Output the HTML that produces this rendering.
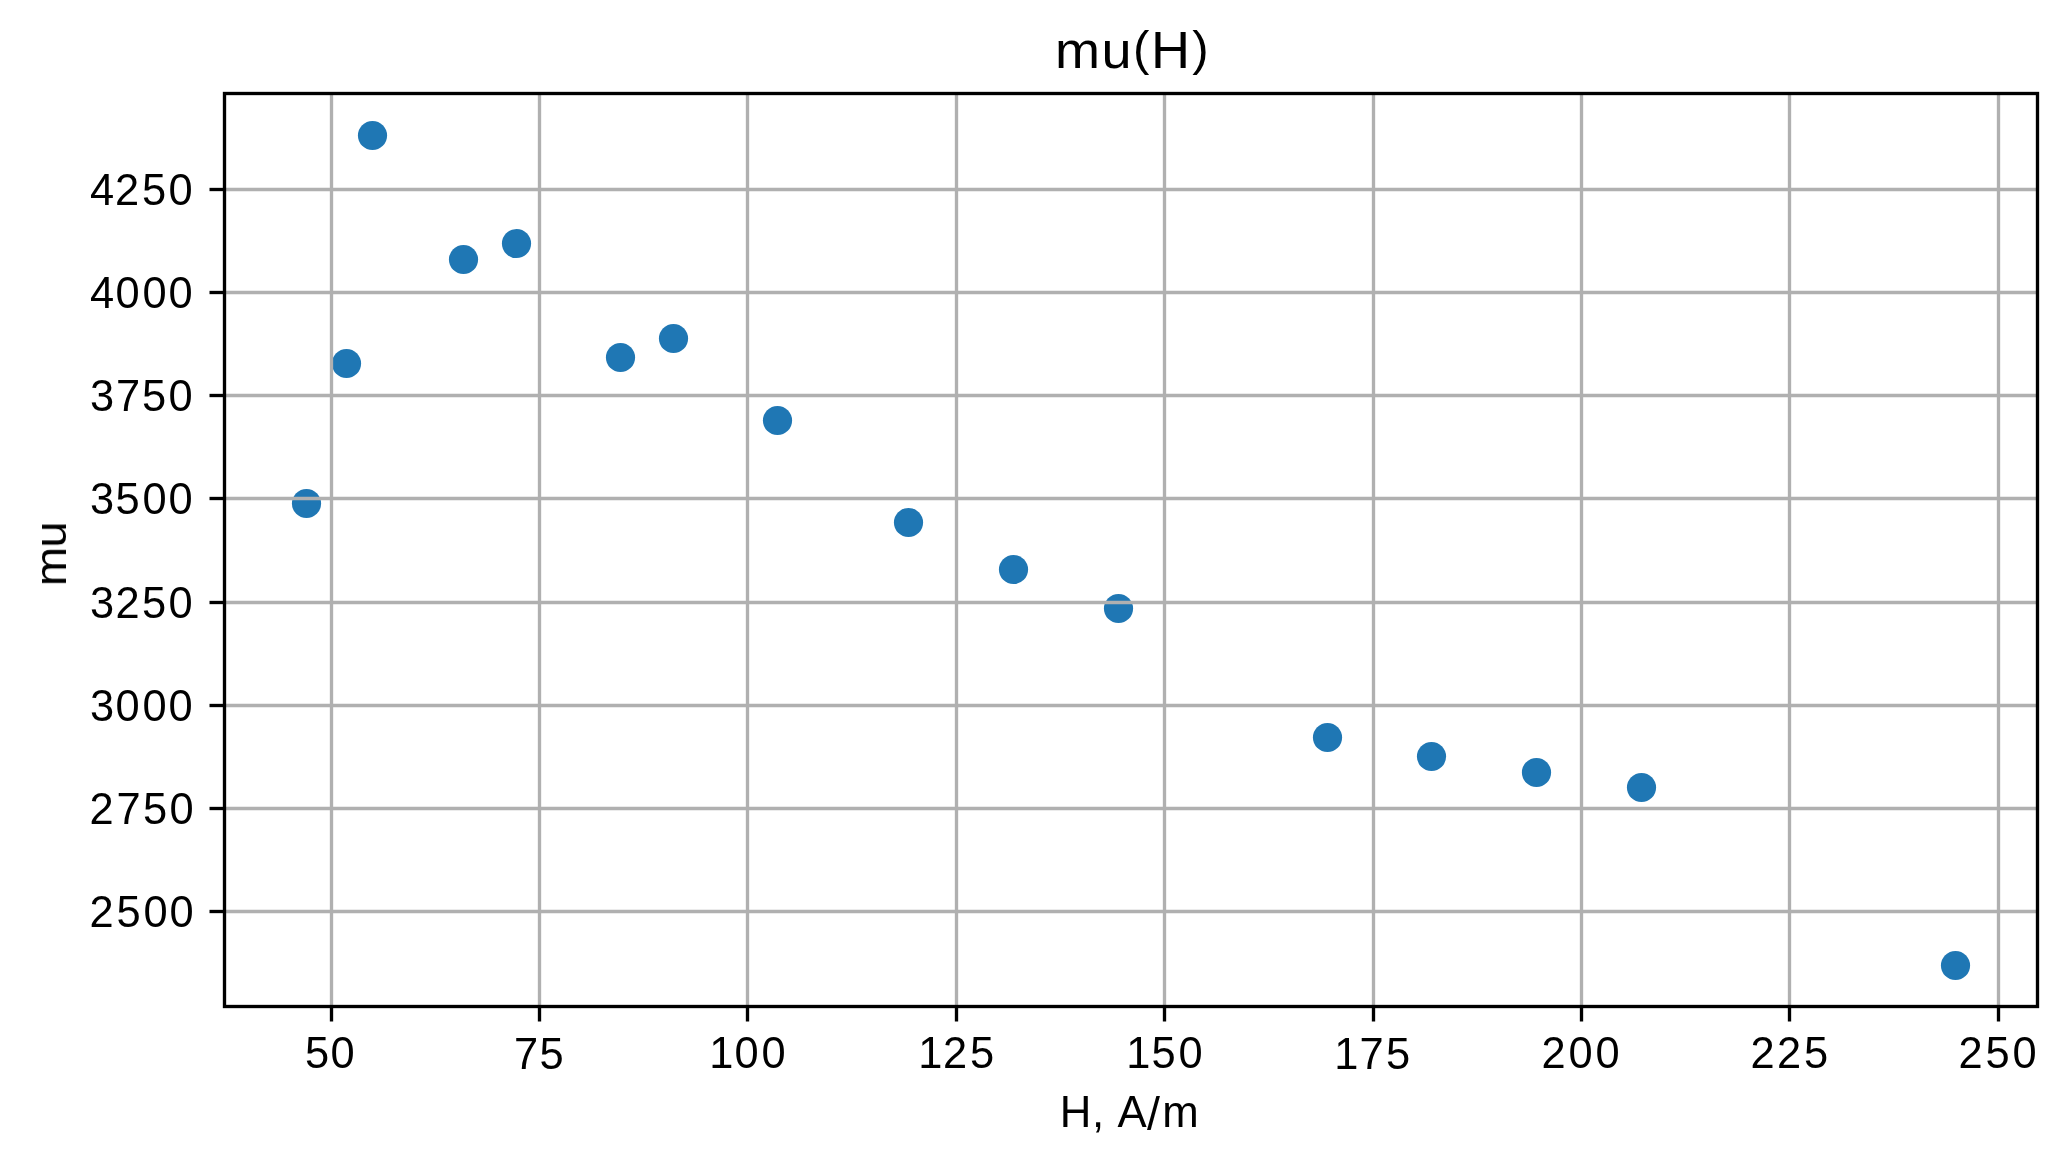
<!DOCTYPE html>
<html lang="en">
<head>
<meta charset="utf-8">
<title>mu(H)</title>
<style>
html,body{margin:0;padding:0;background:#fff;}
body{width:2067px;height:1166px;overflow:hidden;}
svg{display:block;}
text{font-family:"Liberation Sans",sans-serif;fill:#000;}
.tx{filter:grayscale(1);}
.tk{font-size:44.3px;}
.lb{font-size:43.75px;}
.tt{font-size:52.5px;}
.g{stroke:#b0b0b0;stroke-width:3.3333;fill:none;}
.k{stroke:#000;stroke-width:3.3333;fill:none;}
.d{fill:#1f77b4;}
</style>
</head>
<body>
<svg width="2067" height="1166" viewBox="0 0 2067 1166">
<rect x="0" y="0" width="2067" height="1166" fill="#fff"/>
<g class="d">
<circle cx="306.5" cy="503.5" r="14.60"/>
<circle cx="346.5" cy="363.5" r="14.60"/>
<circle cx="372.5" cy="135.5" r="14.60"/>
<circle cx="463.5" cy="259.5" r="14.60"/>
<circle cx="516.5" cy="243.5" r="14.60"/>
<circle cx="620.5" cy="357.5" r="14.60"/>
<circle cx="673.5" cy="338.5" r="14.60"/>
<circle cx="777.5" cy="420.5" r="14.60"/>
<circle cx="908.5" cy="522.5" r="14.60"/>
<circle cx="1013.5" cy="569.5" r="14.60"/>
<circle cx="1118.5" cy="608.5" r="14.60"/>
<circle cx="1327.5" cy="737.5" r="14.60"/>
<circle cx="1431.5" cy="756.5" r="14.60"/>
<circle cx="1536.5" cy="772.5" r="14.60"/>
<circle cx="1641.5" cy="787.5" r="14.60"/>
<circle cx="1955.5" cy="965.5" r="14.60"/>
</g>
<g class="g">
<line x1="331.5" y1="93.5" x2="331.5" y2="1006.5"/>
<line x1="539.5" y1="93.5" x2="539.5" y2="1006.5"/>
<line x1="747.5" y1="93.5" x2="747.5" y2="1006.5"/>
<line x1="956.5" y1="93.5" x2="956.5" y2="1006.5"/>
<line x1="1164.5" y1="93.5" x2="1164.5" y2="1006.5"/>
<line x1="1373.5" y1="93.5" x2="1373.5" y2="1006.5"/>
<line x1="1581.5" y1="93.5" x2="1581.5" y2="1006.5"/>
<line x1="1789.5" y1="93.5" x2="1789.5" y2="1006.5"/>
<line x1="1998.5" y1="93.5" x2="1998.5" y2="1006.5"/>
<line x1="224.5" y1="189.5" x2="2037.5" y2="189.5"/>
<line x1="224.5" y1="292.5" x2="2037.5" y2="292.5"/>
<line x1="224.5" y1="395.5" x2="2037.5" y2="395.5"/>
<line x1="224.5" y1="498.5" x2="2037.5" y2="498.5"/>
<line x1="224.5" y1="602.5" x2="2037.5" y2="602.5"/>
<line x1="224.5" y1="705.5" x2="2037.5" y2="705.5"/>
<line x1="224.5" y1="808.5" x2="2037.5" y2="808.5"/>
<line x1="224.5" y1="911.5" x2="2037.5" y2="911.5"/>
</g>
<g class="k">
<line x1="331.5" y1="1006.5" x2="331.5" y2="1021.5"/>
<line x1="539.5" y1="1006.5" x2="539.5" y2="1021.5"/>
<line x1="747.5" y1="1006.5" x2="747.5" y2="1021.5"/>
<line x1="956.5" y1="1006.5" x2="956.5" y2="1021.5"/>
<line x1="1164.5" y1="1006.5" x2="1164.5" y2="1021.5"/>
<line x1="1373.5" y1="1006.5" x2="1373.5" y2="1021.5"/>
<line x1="1581.5" y1="1006.5" x2="1581.5" y2="1021.5"/>
<line x1="1789.5" y1="1006.5" x2="1789.5" y2="1021.5"/>
<line x1="1998.5" y1="1006.5" x2="1998.5" y2="1021.5"/>
<line x1="209.5" y1="189.5" x2="224.5" y2="189.5"/>
<line x1="209.5" y1="292.5" x2="224.5" y2="292.5"/>
<line x1="209.5" y1="395.5" x2="224.5" y2="395.5"/>
<line x1="209.5" y1="498.5" x2="224.5" y2="498.5"/>
<line x1="209.5" y1="602.5" x2="224.5" y2="602.5"/>
<line x1="209.5" y1="705.5" x2="224.5" y2="705.5"/>
<line x1="209.5" y1="808.5" x2="224.5" y2="808.5"/>
<line x1="209.5" y1="911.5" x2="224.5" y2="911.5"/>
<rect x="224.5" y="93.5" width="1813.0" height="913.0"/>
</g>
<g class="tx">
<g class="tk">
<text transform="scale(0.98 1)" x="311.19 337.17" y="1068">50</text>
<text transform="scale(0.98 1)" x="524.39 550.48" y="1069">75</text>
<text transform="scale(0.98 1)" x="723.81 749.42 776.97" y="1068">100</text>
<text transform="scale(0.98 1)" x="937.08 962.17 989.77" y="1068">125</text>
<text transform="scale(0.98 1)" x="1149.32 1174.97 1202.48" y="1068">150</text>
<text transform="scale(0.98 1)" x="1361.57 1387.15 1414.26" y="1069">175</text>
<text transform="scale(0.98 1)" x="1572.89 1600.44 1627.99" y="1068">200</text>
<text transform="scale(0.98 1)" x="1786.15 1813.19 1840.79" y="1068">225</text>
<text transform="scale(0.98 1)" x="1998.4 2025.99 2053.5" y="1068">250</text>
<text transform="scale(0.98 1)" x="91.9 117.27 144.87 171.86" y="205">4250</text>
<text transform="scale(0.98 1)" x="91.9 117.78 145.33 171.86" y="308">4000</text>
<text transform="scale(0.98 1)" x="91.89 118.27 144.87 171.86" y="411">3750</text>
<text transform="scale(0.98 1)" x="91.89 117.83 145.33 171.86" y="514">3500</text>
<text transform="scale(0.98 1)" x="91.89 117.78 144.87 171.86" y="618">3250</text>
<text transform="scale(0.98 1)" x="91.89 117.78 145.33 171.86" y="721">3000</text>
<text transform="scale(0.98 1)" x="91.25 118.78 145.89 172.89" y="824">2750</text>
<text transform="scale(0.98 1)" x="91.25 118.85 146.35 172.89" y="927">2500</text>
</g>
<text class="tt" transform="scale(1.03 1)" x="1024.24 1069.42 1099.92 1117.44 1157.46" y="68 68 64.7 68 64.7">mu<tspan font-size="47.8">(</tspan>H<tspan font-size="47.8">)</tspan></text>
<text class="lb" x="1059.69 1091.92 1104.08 1117.41 1147.03 1162.27" y="1127 1127 1127 1127 1130.4 1127">H, A<tspan font-size="46.6">/</tspan>m</text>
<text class="lb" transform="translate(66 0) rotate(-90) scale(1.08 1)" x="-542.77 -507.04" y="0">mu</text>
</g>
</svg>
</body>
</html>
